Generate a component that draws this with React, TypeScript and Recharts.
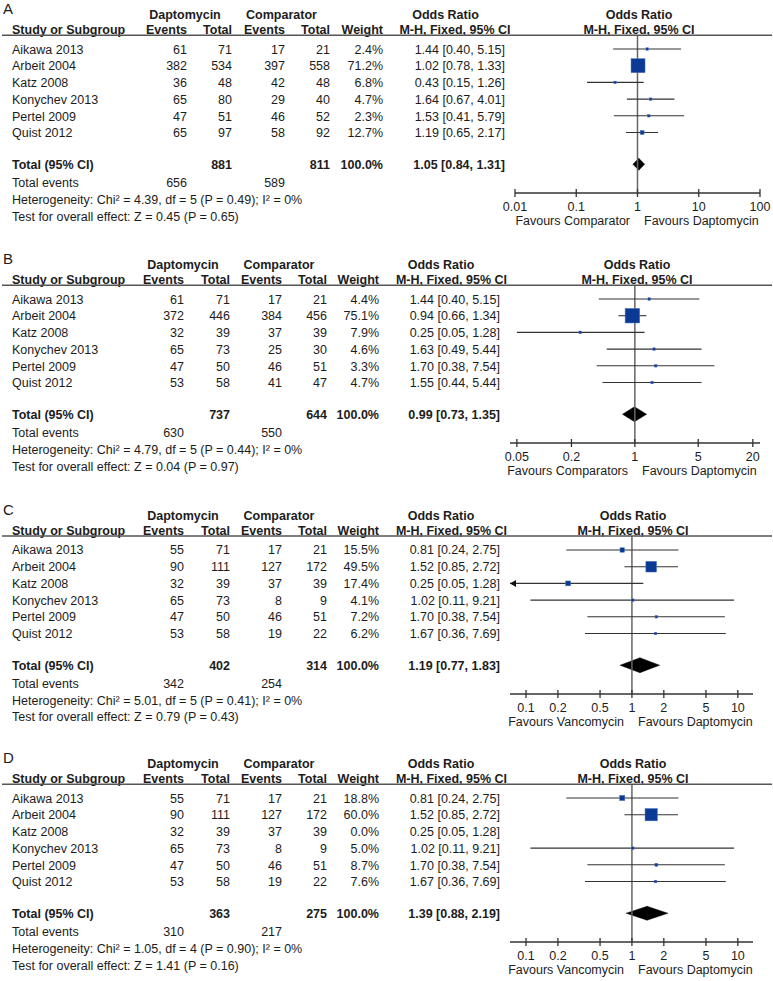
import React from 'react'
import { ComposedChart, XAxis, YAxis, Scatter, ReferenceLine, ReferenceArea } from 'recharts'

const FONT = '"Liberation Sans", Arial, Helvetica, sans-serif'
const INK = '#1c1c1c'

const studies = ['Aikawa 2013', 'Arbeit 2004', 'Katz 2008', 'Konychev 2013', 'Pertel 2009', 'Quist 2012']

// A
const dapEventsA = [61, 382, 36, 65, 47, 65]
const dapTotalA = [71, 534, 48, 80, 51, 97]
const compEventsA = [17, 397, 42, 29, 46, 58]
const compTotalA = [21, 558, 48, 40, 52, 92]
const weightA = [2.4, 71.2, 6.8, 4.7, 2.3, 12.7]
const orA = [1.44, 1.02, 0.43, 1.64, 1.53, 1.19]
const lowA = [0.4, 0.78, 0.15, 0.67, 0.41, 0.65]
const highA = [5.15, 1.33, 1.26, 4.01, 5.79, 2.17]
const totalNA = [881, 811]
const totalEventsA = [656, 589]
const pooledA = [1.05, 0.84, 1.31]
const hetA = 'Chi² = 4.39, df = 5 (P = 0.49); I² = 0%'
const testA = 'Z = 0.45 (P = 0.65)'
const ticksA = [0.01, 0.1, 1, 10, 100]
const favoursA = ['Favours Comparator', 'Favours Daptomycin']

// B
const dapEventsB = [61, 372, 32, 65, 47, 53]
const dapTotalB = [71, 446, 39, 73, 50, 58]
const compEventsB = [17, 384, 37, 25, 46, 41]
const compTotalB = [21, 456, 39, 30, 51, 47]
const weightB = [4.4, 75.1, 7.9, 4.6, 3.3, 4.7]
const orB = [1.44, 0.94, 0.25, 1.63, 1.7, 1.55]
const lowB = [0.4, 0.66, 0.05, 0.49, 0.38, 0.44]
const highB = [5.15, 1.34, 1.28, 5.44, 7.54, 5.44]
const totalNB = [737, 644]
const totalEventsB = [630, 550]
const pooledB = [0.99, 0.73, 1.35]
const hetB = 'Chi² = 4.79, df = 5 (P = 0.44); I² = 0%'
const testB = 'Z = 0.04 (P = 0.97)'
const ticksB = [0.05, 0.2, 1, 5, 20]
const favoursB = ['Favours Comparators', 'Favours Daptomycin']

// C
const dapEventsC = [55, 90, 32, 65, 47, 53]
const dapTotalC = [71, 111, 39, 73, 50, 58]
const compEventsC = [17, 127, 37, 8, 46, 19]
const compTotalC = [21, 172, 39, 9, 51, 22]
const weightC = [15.5, 49.5, 17.4, 4.1, 7.2, 6.2]
const orC = [0.81, 1.52, 0.25, 1.02, 1.7, 1.67]
const lowC = [0.24, 0.85, 0.05, 0.11, 0.38, 0.36]
const highC = [2.75, 2.72, 1.28, 9.21, 7.54, 7.69]
const totalNC = [402, 314]
const totalEventsC = [342, 254]
const pooledC = [1.19, 0.77, 1.83]
const hetC = 'Chi² = 5.01, df = 5 (P = 0.41); I² = 0%'
const testC = 'Z = 0.79 (P = 0.43)'
const ticksC = [0.1, 0.2, 0.5, 1, 2, 5, 10]
const favoursC = ['Favours Vancomycin', 'Favours Daptomycin']

// D
const dapEventsD = [55, 90, 32, 65, 47, 53]
const dapTotalD = [71, 111, 39, 73, 50, 58]
const compEventsD = [17, 127, 37, 8, 46, 19]
const compTotalD = [21, 172, 39, 9, 51, 22]
const weightD = [18.8, 60.0, 0.0, 5.0, 8.7, 7.6]
const orD = [0.81, 1.52, 0.25, 1.02, 1.7, 1.67]
const lowD = [0.24, 0.85, 0.05, 0.11, 0.38, 0.36]
const highD = [2.75, 2.72, 1.28, 9.21, 7.54, 7.69]
const totalND = [363, 275]
const totalEventsD = [310, 217]
const pooledD = [1.39, 0.88, 2.19]
const hetD = 'Chi² = 1.05, df = 4 (P = 0.90); I² = 0%'
const testD = 'Z = 1.41 (P = 0.16)'
const ticksD = [0.1, 0.2, 0.5, 1, 2, 5, 10]
const favoursD = ['Favours Vancomycin', 'Favours Daptomycin']

// layout
const W = 773
const PITCH = 16.7
const RULE = 14
const AXIS = 144
const TOPM = 36
const CH = TOPM + RULE + AXIS + 40
const TOTAL_ROW = 6.9

const wideCols = { cols: [187, 232, 285, 330, 383], orEnd: 505, dapHead: 185, compHead: 281.5, orHead: 445.5, mhHead: 455 }
const narrowCols = { cols: [184, 230, 282, 327, 379], orEnd: 500, dapHead: 183, compHead: 279, orHead: 441, mhHead: 451.5 }

const panels = [
  {
    letter: 'A', row0: 49.3, domain: [0.01, 100], plotLeft: 515, plotRight: 760, plotHead: 639, diamond: 6, ...wideCols,
    dapEvents: dapEventsA, dapTotal: dapTotalA, compEvents: compEventsA, compTotal: compTotalA, weight: weightA,
    or: orA, low: lowA, high: highA, totalN: totalNA, totalEvents: totalEventsA, pooled: pooledA, het: hetA, test: testA,
    ticks: ticksA, favours: favoursA,
  },
  {
    letter: 'B', row0: 299.3, domain: [0.042, 24], plotLeft: 510, plotRight: 760, plotHead: 637, diamond: 7.5, ...narrowCols,
    dapEvents: dapEventsB, dapTotal: dapTotalB, compEvents: compEventsB, compTotal: compTotalB, weight: weightB,
    or: orB, low: lowB, high: highB, totalN: totalNB, totalEvents: totalEventsB, pooled: pooledB, het: hetB, test: testB,
    ticks: ticksB, favours: favoursB,
  },
  {
    letter: 'C', row0: 550, domain: [0.0706, 13.9], plotLeft: 510, plotRight: 753, plotHead: 633, diamond: 7.5, ...narrowCols,
    dapEvents: dapEventsC, dapTotal: dapTotalC, compEvents: compEventsC, compTotal: compTotalC, weight: weightC,
    or: orC, low: lowC, high: highC, totalN: totalNC, totalEvents: totalEventsC, pooled: pooledC, het: hetC, test: testC,
    ticks: ticksC, favours: favoursC,
  },
  {
    letter: 'D', row0: 798.3, domain: [0.0706, 13.9], plotLeft: 510, plotRight: 753, plotHead: 633, diamond: 7, ...narrowCols,
    dapEvents: dapEventsD, dapTotal: dapTotalD, compEvents: compEventsD, compTotal: compTotalD, weight: weightD,
    or: orD, low: lowD, high: highD, totalN: totalND, totalEvents: totalEventsD, pooled: pooledD, het: hetD, test: testD,
    ticks: ticksD, favours: favoursD,
  },
]

type Panel = (typeof panels)[number]

const fmtCI = (v: number, lo: number, hi: number) => `${v.toFixed(2)} [${lo.toFixed(2)}, ${hi.toFixed(2)}]`

function AxisTick(props: any) {
  const { x, y, payload } = props
  return (
    <g>
      <line x1={x} x2={x} y1={y - 4} y2={y + 4} stroke="#333" strokeWidth={1.3} />
      <text x={x} y={y + 18} textAnchor="middle" fontSize={12.5} fontFamily={FONT} fill={INK}>
        {payload.value}
      </text>
    </g>
  )
}

function StudySquare(props: any) {
  const { cx, cy, payload } = props
  const s = Math.max(2.5, 0.57 * Math.pow(payload.w, 0.75))
  return <rect x={cx - s / 2} y={cy - s / 2} width={s} height={s} fill="#0a3a94" stroke="#4a72c0" strokeWidth={0.5} />
}

function CiLine(props: any) {
  const { x1, y1, x2, y2, arrowLeft } = props
  return (
    <g>
      <line x1={x1} y1={y1} x2={x2} y2={y2} stroke="#333" strokeWidth={1.1} />
      {arrowLeft && <polygon points={`${x1},${y1} ${x1 + 6},${y1 - 3.5} ${x1 + 6},${y1 + 3.5}`} fill="#111" />}
    </g>
  )
}

const LeftHalf = (p: any) => (
  <polygon points={`${p.x},${p.y + p.height / 2} ${p.x + p.width},${p.y} ${p.x + p.width},${p.y + p.height}`} fill="#000" stroke="#000" strokeWidth={0.4} />
)
const RightHalf = (p: any) => (
  <polygon points={`${p.x},${p.y} ${p.x + p.width},${p.y + p.height / 2} ${p.x},${p.y + p.height}`} fill="#000" stroke="#000" strokeWidth={0.4} />
)

function Forest({ p }: { p: Panel }) {
  const top = p.row0 - RULE - TOPM
  const points = p.or.map((v, i) => ({ x: v, y: i, w: p.weight[i] })).filter((d) => d.w > 0)
  const h = p.diamond / PITCH
  const [pe, plo, phi] = p.pooled
  return (
    <div style={{ position: 'absolute', left: 0, top }}>
      <ComposedChart width={W} height={CH} margin={{ top: TOPM, right: W - p.plotRight, bottom: 0, left: p.plotLeft }}>
        <XAxis
          type="number"
          dataKey="x"
          scale="log"
          domain={p.domain}
          allowDataOverflow
          ticks={p.ticks}
          interval={0}
          height={40}
          tickSize={0}
          tickMargin={0}
          tickLine={false}
          axisLine={{ stroke: '#333', strokeWidth: 1.3 }}
          tick={<AxisTick />}
        />
        <YAxis type="number" dataKey="y" domain={[-RULE / PITCH, AXIS / PITCH]} allowDataOverflow reversed hide />
        <ReferenceLine x={1} stroke="#666" strokeWidth={1.5} />
        {p.or.map((_, i) =>
          p.weight[i] > 0 ? (
            <ReferenceLine
              key={i}
              segment={[
                { x: Math.max(p.low[i], p.domain[0]), y: i },
                { x: Math.min(p.high[i], p.domain[1]), y: i },
              ]}
              shape={(s: any) => <CiLine {...s} arrowLeft={p.low[i] < p.domain[0]} />}
            />
          ) : null
        )}
        <Scatter data={points} shape={StudySquare} isAnimationActive={false} />
        <ReferenceArea x1={plo} x2={pe} y1={TOTAL_ROW - h} y2={TOTAL_ROW + h} shape={LeftHalf} />
        <ReferenceArea x1={pe} x2={phi} y1={TOTAL_ROW - h} y2={TOTAL_ROW + h} shape={RightHalf} />
      </ComposedChart>
    </div>
  )
}

function T({ x, y, a = 'start', b = false, size = 12.5, children }: any) {
  return (
    <text x={x} y={y} textAnchor={a} fontWeight={b ? 700 : 400} fontSize={size} fontFamily={FONT} fill={INK}>
      {children}
    </text>
  )
}

function PanelText({ p }: { p: Panel }) {
  const r = (i: number) => p.row0 + i * PITCH + 4.4
  const [c0, c1, c2, c3, c4] = p.cols
  const head1 = p.row0 - 30.5
  const head2 = p.row0 - 15.5
  const [pe, plo, phi] = p.pooled
  const x1 = p.plotHead - 1
  return (
    <g>
      <T x={3} y={p.row0 - 35} size={15}>{p.letter}</T>
      <T x={p.dapHead} y={head1} a="middle" b>Daptomycin</T>
      <T x={p.compHead} y={head1} a="middle" b>Comparator</T>
      <T x={p.orHead} y={head1} a="middle" b>Odds Ratio</T>
      <T x={p.plotHead} y={head1} a="middle" b>Odds Ratio</T>
      <T x={12} y={head2} b>Study or Subgroup</T>
      <T x={c0} y={head2} a="end" b>Events</T>
      <T x={c1} y={head2} a="end" b>Total</T>
      <T x={c2} y={head2} a="end" b>Events</T>
      <T x={c3} y={head2} a="end" b>Total</T>
      <T x={c4} y={head2} a="end" b>Weight</T>
      <T x={p.mhHead} y={head2} a="middle" b>M-H, Fixed, 95% CI</T>
      <T x={p.plotHead} y={head2} a="middle" b>M-H, Fixed, 95% CI</T>
      <line x1={2} x2={772} y1={p.row0 - RULE} y2={p.row0 - RULE} stroke="#555" strokeWidth={1.6} />
      {studies.map((s, i) => (
        <g key={s}>
          <T x={12} y={r(i)}>{s}</T>
          <T x={c0} y={r(i)} a="end">{p.dapEvents[i]}</T>
          <T x={c1} y={r(i)} a="end">{p.dapTotal[i]}</T>
          <T x={c2} y={r(i)} a="end">{p.compEvents[i]}</T>
          <T x={c3} y={r(i)} a="end">{p.compTotal[i]}</T>
          <T x={c4} y={r(i)} a="end">{p.weight[i].toFixed(1)}%</T>
          <T x={p.orEnd} y={r(i)} a="end">{fmtCI(p.or[i], p.low[i], p.high[i])}</T>
        </g>
      ))}
      <T x={12} y={r(TOTAL_ROW)} b>Total (95% CI)</T>
      <T x={c1} y={r(TOTAL_ROW)} a="end" b>{p.totalN[0]}</T>
      <T x={c3} y={r(TOTAL_ROW)} a="end" b>{p.totalN[1]}</T>
      <T x={c4} y={r(TOTAL_ROW)} a="end" b>100.0%</T>
      <T x={p.orEnd} y={r(TOTAL_ROW)} a="end" b>{fmtCI(pe, plo, phi)}</T>
      <T x={12} y={r(8)}>Total events</T>
      <T x={c0} y={r(8)} a="end">{p.totalEvents[0]}</T>
      <T x={c2} y={r(8)} a="end">{p.totalEvents[1]}</T>
      <T x={12} y={r(9)}>Heterogeneity: {p.het}</T>
      <T x={12} y={r(10)}>Test for overall effect: {p.test}</T>
      <T x={x1 - 8} y={p.row0 + 176} a="end">{p.favours[0]}</T>
      <T x={x1 + 6} y={p.row0 + 176}>{p.favours[1]}</T>
    </g>
  )
}

export default function App() {
  return (
    <div style={{ position: 'absolute', left: 0, top: 0, width: W, height: 981, background: '#fff', fontFamily: FONT }}>
      {panels.map((p) => (
        <Forest key={p.letter} p={p} />
      ))}
      <svg width={W} height={981} style={{ position: 'absolute', left: 0, top: 0, pointerEvents: 'none' }}>
        {panels.map((p) => (
          <PanelText key={p.letter} p={p} />
        ))}
      </svg>
    </div>
  )
}
